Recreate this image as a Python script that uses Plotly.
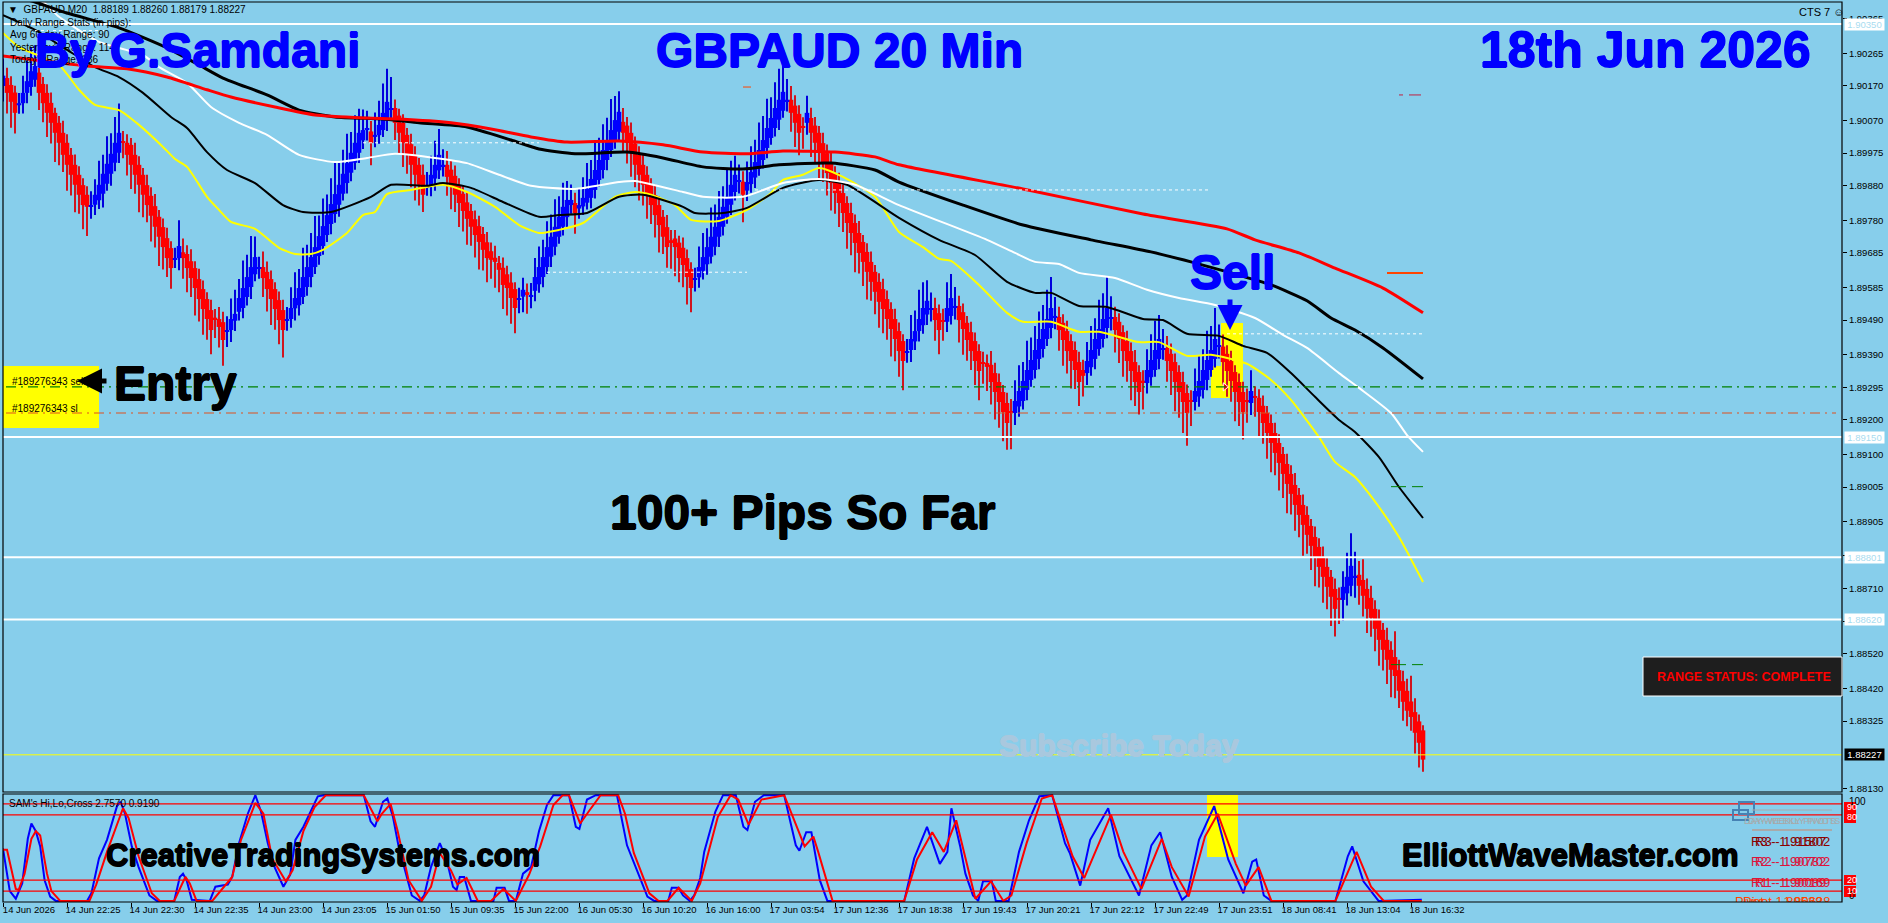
import numpy as np
import plotly.graph_objects as go

# candle values are points above 1.88000
closes = [
    2200, 2150, 2124, 2092, 2120, 2150, 2184, 2213, 2228, 2150,
    2120, 2092, 2063, 2034, 2005, 1970, 1941, 1912, 1883, 1854,
    1824, 1819, 1824, 1854, 1883, 1915, 1944, 1973, 2005, 2034,
    2005, 1970, 1941, 1912, 1883, 1854, 1824, 1793, 1761, 1732,
    1702, 1670, 1641, 1670, 1705, 1670, 1641, 1612, 1583, 1551,
    1522, 1493, 1461, 1493, 1470, 1432, 1461, 1493, 1508, 1554,
    1583, 1615, 1644, 1673, 1644, 1612, 1580, 1551, 1522, 1490,
    1461, 1493, 1525, 1554, 1583, 1615, 1644, 1673, 1702, 1734,
    1763, 1795, 1827, 1856, 1883, 1915, 1946, 1976, 2005, 2034,
    2042, 2048, 2005, 2028, 2057, 2092, 2124, 2106, 2063, 2034,
    2005, 1970, 1941, 1912, 1883, 1854, 1880, 1912, 1941, 1970,
    1941, 1906, 1877, 1854, 1830, 1807, 1784, 1761, 1737, 1717,
    1694, 1670, 1665, 1659, 1636, 1592, 1583, 1554, 1525, 1554,
    1578, 1563, 1563, 1615, 1644, 1673, 1702, 1732, 1761, 1790,
    1819, 1839, 1839, 1801, 1824, 1845, 1871, 1900, 1926, 1955,
    1984, 2013, 2042, 2071, 2095, 2034, 2005, 1976, 1941, 1912,
    1883, 1854, 1824, 1795, 1766, 1732, 1702, 1714, 1702, 1670,
    1650, 1615, 1583, 1612, 1644, 1673, 1702, 1732, 1761, 1790,
    1819, 1848, 1883, 1912, 1897, 1854, 1891, 1920, 1949, 1984,
    2013, 2048, 2077, 2106, 2130, 2153, 2130, 2092, 2063, 2034,
    2048, 2092, 2034, 2005, 1976, 1946, 1917, 1888, 1859, 1830,
    1801, 1772, 1743, 1714, 1685, 1659, 1630, 1601, 1572, 1543,
    1522, 1493, 1464, 1435, 1400, 1371, 1400, 1435, 1458, 1493,
    1525, 1546, 1525, 1490, 1461, 1485, 1525, 1554, 1531, 1490,
    1464, 1432, 1400, 1371, 1342, 1365, 1354, 1310, 1281, 1252,
    1223, 1191, 1220, 1255, 1284, 1313, 1345, 1374, 1403, 1435,
    1464, 1493, 1525, 1502, 1461, 1432, 1400, 1371, 1345, 1310,
    1328, 1371, 1403, 1435, 1464, 1493, 1525, 1499, 1461, 1435,
    1400, 1371, 1342, 1310, 1281, 1310, 1345, 1374, 1403, 1435,
    1409, 1371, 1342, 1310, 1281, 1252, 1220, 1252, 1284, 1313,
    1345, 1374, 1403, 1435, 1417, 1368, 1342, 1313, 1281, 1252,
    1223, 1252, 1284, 1264, 1223, 1191, 1162, 1133, 1104, 1075,
    1043, 1014, 985, 953, 924, 895, 866, 834, 802, 773,
    744, 715, 686, 651, 677, 715, 744, 776, 747, 718,
    689, 651, 625, 593, 561, 532, 503, 474, 456, 413,
    381, 355, 337, 291, 262, 213,
]
# open minus close, so red bars are positive and blue negative
bodies = [
    -30, 43, 49, 59, -6, -30, -34, -46, -40, 59,
    56, 58, 58, 58, 58, 64, 64, 58, 58, 58,
    58, 35, -5, -29, -45, -58, -58, -58, -58, -58,
    4, 35, 58, 58, 58, 58, 58, 58, 60, 58,
    58, 58, 58, -4, -35, 17, 41, 49, 58, 58,
    58, 58, 58, 4, 23, 52, -4, -32, -20, -40,
    -58, -58, -58, -50, -4, 32, 50, 58, 58, 58,
    58, -4, -32, -30, -50, -58, -58, -58, -58, -58,
    -58, -58, -58, -58, -58, -58, -58, -58, -58, -58,
    -30, -6, 33, -6, -30, -50, -55, -4, 43, 50,
    58, 58, 60, 58, 58, 58, -4, -32, -40, -45,
    -4, 35, 50, 55, 52, 50, 48, 46, 46, 46,
    46, 46, 25, 12, 20, 50, 40, 45, 55, -4,
    -20, 8, -4, -40, -50, -58, -58, -58, -58, -58,
    -58, -50, -15, 29, -10, -25, -40, -55, -58, -58,
    -58, -58, -58, -58, -58, 32, 50, 58, 62, 58,
    58, 58, 58, 58, 58, 58, 58, 8, 25, 45,
    50, 55, 55, -4, -30, -40, -50, -58, -58, -58,
    -58, -58, -58, -50, -4, 38, -25, -35, -45, -55,
    -58, -58, -58, -58, -58, -55, -4, 38, 50, 55,
    6, -29, 43, 50, 58, 58, 58, 58, 58, 58,
    58, 58, 58, 58, 58, 58, 58, 58, 58, 58,
    58, 58, 58, 58, 58, 58, -4, -32, -30, -35,
    -50, -40, -4, 35, 49, 3, -40, -52, -4, 41,
    49, 50, 55, 58, 58, 3, 11, 50, 55, 58,
    58, 58, 6, -35, -45, -58, -58, -58, -58, -58,
    -58, -58, -58, -4, 38, 50, 58, 58, 58, 58,
    17, -35, -50, -58, -58, -58, -58, -4, 38, 50,
    55, 58, 58, 58, 58, 4, -38, -50, -58, -58,
    -4, 38, 50, 58, 58, 58, 58, 4, -32, -45,
    -58, -58, -58, -58, -4, 45, 50, 58, 58, 58,
    58, 4, -35, 4, 41, 50, 58, 58, 58, 58,
    58, 58, 58, 58, 58, 58, 58, 58, 58, 58,
    58, 58, 58, 58, 6, -38, -48, -58, -4, 32,
    46, 58, 58, 58, 58, 58, 58, 58, 55, 60,
    60, 58, 45, 60, 62, 85,
]
upper_wicks = [
    50, 30, 25, 20, 30, 50, 60, 70, 60, 25,
    20, 25, 30, 15, 20, 35, 25, 20, 30, 25,
    20, 25, 40, 45, 70, 55, 80, 60, 75, 85,
    30, 25, 20, 35, 25, 20, 30, 25, 35, 20,
    25, 30, 20, 30, 75, 40, 25, 35, 20, 30,
    25, 20, 30, 25, 35, 30, 40, 60, 70, 55,
    80, 65, 90, 60, 30, 45, 30, 25, 20, 25,
    30, 35, 60, 75, 55, 85, 65, 70, 90, 60,
    80, 60, 75, 90, 65, 70, 85, 60, 80, 70,
    60, 50, 30, 65, 70, 85, 96, 90, 25, 20,
    25, 20, 30, 25, 20, 30, 40, 55, 70, 75,
    45, 40, 25, 30, 20, 25, 30, 20, 25, 30,
    20, 30, 25, 35, 20, 30, 25, 30, 20, 30,
    35, 25, 35, 55, 60, 50, 75, 65, 80, 60,
    70, 55, 45, 30, 50, 60, 75, 55, 85, 65,
    75, 65, 90, 70, 60, 40, 25, 30, 20, 25,
    30, 25, 20, 30, 25, 20, 35, 30, 25, 20,
    30, 25, 20, 30, 60, 70, 55, 85, 65, 75,
    60, 80, 70, 55, 45, 30, 60, 75, 65, 80,
    70, 85, 60, 75, 90, 75, 60, 40, 30, 25,
    25, 50, 30, 25, 20, 30, 25, 35, 20, 30,
    25, 20, 30, 25, 35, 20, 25, 30, 20, 25,
    30, 25, 20, 30, 25, 20, 35, 70, 60, 85,
    75, 60, 45, 30, 25, 35, 75, 70, 55, 30,
    25, 20, 30, 25, 20, 30, 25, 40, 30, 25,
    20, 30, 35, 60, 75, 55, 85, 65, 70, 80,
    70, 85, 90, 55, 30, 25, 30, 20, 25, 30,
    30, 55, 70, 60, 85, 75, 90, 60, 30, 25,
    20, 30, 25, 35, 20, 30, 60, 75, 85, 70,
    55, 35, 30, 25, 20, 30, 25, 30, 65, 75,
    60, 85, 70, 90, 60, 35, 25, 30, 20, 25,
    30, 35, 60, 30, 25, 30, 20, 25, 30, 25,
    20, 30, 25, 35, 20, 30, 25, 20, 30, 25,
    30, 25, 20, 30, 30, 45, 70, 95, 70, 40,
    60, 30, 35, 25, 30, 20, 35, 25, 75, 30,
    30, 35, 75, 40, 20, 15,
]
lower_wicks = [
    45, 60, 75, 60, 25, 30, 30, 25, 20, 50,
    55, 70, 60, 85, 65, 50, 75, 60, 80, 55,
    70, 85, 35, 30, 25, 40, 20, 35, 25, 30,
    45, 60, 70, 55, 80, 65, 50, 75, 60, 85,
    65, 55, 60, 25, 35, 60, 70, 55, 80, 65,
    75, 60, 70, 55, 60, 75, 45, 35, 30, 25,
    30, 25, 35, 20, 30, 55, 65, 75, 60, 70,
    80, 30, 25, 35, 30, 20, 25, 30, 20, 25,
    25, 20, 30, 25, 35, 20, 30, 25, 20, 30,
    25, 30, 65, 30, 25, 20, 30, 25, 50, 60,
    70, 55, 65, 75, 60, 50, 25, 30, 35, 25,
    30, 55, 65, 50, 70, 60, 75, 55, 65, 80,
    60, 70, 55, 75, 65, 70, 80, 75, 73, 40,
    45, 55, 35, 30, 25, 30, 20, 30, 25, 20,
    25, 30, 25, 60, 30, 25, 20, 30, 25, 20,
    25, 30, 20, 25, 30, 55, 60, 70, 65, 75,
    60, 70, 55, 65, 80, 50, 60, 75, 85, 70,
    65, 80, 70, 35, 30, 25, 30, 20, 25, 30,
    25, 20, 30, 25, 35, 80, 30, 25, 30, 20,
    25, 30, 20, 25, 30, 20, 30, 55, 70, 65,
    60, 35, 70, 60, 75, 55, 65, 80, 60, 70,
    55, 75, 65, 85, 60, 70, 80, 55, 65, 75,
    70, 60, 80, 65, 75, 85, 30, 35, 25, 30,
    25, 30, 35, 60, 70, 55, 30, 25, 35, 65,
    75, 60, 55, 70, 85, 60, 70, 65, 80, 75,
    85, 78, 105, 35, 30, 25, 30, 20, 25, 30,
    25, 20, 30, 35, 60, 75, 65, 80, 55, 70,
    60, 35, 25, 30, 20, 25, 30, 35, 65, 70,
    75, 60, 85, 70, 65, 80, 30, 25, 20, 30,
    30, 60, 70, 85, 75, 90, 95, 70, 25, 30,
    25, 30, 20, 25, 35, 65, 75, 60, 85, 70,
    80, 60, 35, 55, 70, 60, 75, 85, 65, 80,
    70, 85, 60, 75, 65, 90, 55, 70, 85, 60,
    75, 65, 85, 80, 70, 60, 35, 30, 60, 55,
    60, 70, 55, 65, 75, 60, 70, 80, 65, 50,
    55, 45, 40, 60, 72, 35,
]

# moving averages: (bar, points above 1.88000)
ma_red_bar = [0, 21, 31, 41, 51, 57, 68, 78, 91, 99, 112, 122, 132, 141, 154, 165, 175, 186, 195, 208, 218, 224, 255, 285, 306, 313, 324, 333, 345, 355]
ma_red_pts = [2257, 2228, 2220, 2196, 2159, 2138, 2109, 2086, 2077, 2074, 2063, 2045, 2022, 2007, 2010, 1999, 1978, 1973, 1981, 1978, 1964, 1941, 1871, 1798, 1755, 1723, 1685, 1641, 1583, 1511]
ma_black_slow_bar = [0, 8, 16, 29, 41, 49, 55, 66, 74, 83, 95, 104, 116, 127, 134, 143, 156, 165, 175, 185, 194, 207, 218, 224, 240, 255, 272, 287, 297, 307, 317, 326, 332, 338, 345, 355]
ma_black_slow_pts = [2440, 2414, 2382, 2339, 2281, 2231, 2193, 2144, 2100, 2080, 2074, 2063, 2051, 2013, 1987, 1973, 1978, 1961, 1935, 1929, 1941, 1946, 1926, 1891, 1824, 1766, 1723, 1688, 1659, 1627, 1592, 1546, 1496, 1461, 1409, 1319]
ma_white_bar = [0, 10, 14, 24, 35, 39, 46, 52, 59, 66, 74, 83, 91, 98, 108, 116, 124, 132, 143, 154, 158, 170, 175, 185, 195, 204, 213, 224, 246, 253, 258, 264, 269, 278, 286, 294, 303, 313, 320, 326, 334, 339, 347, 351, 355]
ma_white_pts = [2440, 2414, 2371, 2298, 2260, 2225, 2179, 2109, 2063, 2028, 1970, 1949, 1961, 1973, 1961, 1946, 1912, 1880, 1871, 1891, 1894, 1862, 1848, 1848, 1888, 1900, 1883, 1824, 1723, 1685, 1659, 1653, 1627, 1612, 1578, 1554, 1534, 1496, 1447, 1409, 1336, 1293, 1220, 1156, 1107]
ma_black_fast_bar = [0, 8, 16, 23, 29, 35, 42, 46, 51, 56, 63, 70, 75, 82, 92, 97, 106, 110, 117, 125, 134, 139, 146, 154, 160, 170, 173, 180, 186, 195, 204, 211, 224, 234, 243, 251, 258, 262, 269, 276, 285, 290, 296, 304, 310, 316, 322, 328, 334, 338, 344, 349, 355]
ma_black_fast_pts = [2376, 2333, 2275, 2225, 2196, 2150, 2080, 2048, 1978, 1926, 1888, 1824, 1804, 1804, 1848, 1883, 1880, 1888, 1874, 1833, 1790, 1795, 1801, 1848, 1854, 1819, 1801, 1801, 1816, 1874, 1897, 1883, 1787, 1723, 1679, 1601, 1569, 1569, 1531, 1528, 1493, 1490, 1450, 1444, 1415, 1395, 1336, 1267, 1200, 1165, 1092, 1005, 915]
ma_yellow_bar = [0, 4, 14, 19, 23, 29, 34, 40, 43, 46, 51, 54, 57, 63, 69, 73, 77, 80, 86, 90, 93, 96, 102, 110, 116, 123, 129, 134, 139, 145, 153, 158, 162, 168, 172, 179, 186, 192, 195, 200, 204, 210, 218, 224, 230, 234, 237, 244, 251, 255, 262, 269, 274, 284, 289, 296, 302, 311, 317, 322, 329, 333, 338, 344, 349, 355]
ma_yellow_pts = [2324, 2283, 2231, 2159, 2115, 2100, 2057, 1993, 1958, 1935, 1848, 1810, 1775, 1755, 1700, 1682, 1682, 1694, 1743, 1795, 1804, 1856, 1868, 1883, 1862, 1819, 1766, 1743, 1752, 1772, 1848, 1862, 1854, 1824, 1781, 1778, 1810, 1859, 1897, 1912, 1932, 1906, 1848, 1746, 1702, 1668, 1662, 1592, 1511, 1485, 1485, 1456, 1456, 1426, 1426, 1386, 1389, 1363, 1316, 1258, 1150, 1078, 1034, 947, 860, 729]

# stochastic pane
stoch_blue_bar = [0, 1.7, 3.2, 4.8, 6.2, 7.1, 8.2, 9.3, 10.4, 11.8, 13.2, 21, 22.1, 24, 26, 28.5, 29.4, 30.5, 32.2, 33.9, 36.6, 38.5, 42.8, 44.2, 45, 45.9, 47.2, 51.7, 53.1, 56.2, 57.3, 59, 61.2, 63.1, 64.5, 66.2, 67.9, 70.1, 71.8, 73.1, 75.1, 76.8, 78.7, 80.2, 90.2, 91.9, 93, 95, 96.1, 97.5, 98.9, 100.3, 102.2, 104.2, 105.3, 107, 109.2, 110.9, 112.5, 113.4, 114.2, 115.3, 117, 122.6, 123.4, 125.4, 126.5, 128.2, 130, 132, 134, 136, 137.6, 141.5, 143.2, 144.1, 146, 148.2, 153.5, 156, 158.9, 161.1, 162.8, 166.3, 167.2, 168.9, 170, 171.7, 172.8, 174.3,
                  175.3, 178.1, 180, 183.2, 185.1, 186.1, 188, 190.2, 195.3, 198.2, 199.1, 200.8, 202.1, 204.2, 206.1, 225.3, 227.8, 231, 234.2, 236.1, 237.1, 239.3, 240.6, 242.5, 243.8, 245, 247.2, 248.2, 251.4, 254, 256.5, 259.1, 262.3, 265.5, 266.7, 269.3, 271.8, 276.3, 279.1, 284, 287.1, 289.3, 292.2, 294.8, 296, 299, 302.8, 306.3, 310.1, 312.3, 313.3, 315.2, 317.1, 333.1, 336.2, 337.3, 340.1, 343.9, 354.7]
stoch_blue_val = [49, 10, 3, 17, 58, 72, 65, 51, 20, 5, 1, 1, 8, 40, 57, 88, 92, 81, 51, 32, 6, 1, 1, 23, 26, 20, 2, 1, 14, 16, 23, 54, 81, 98, 83, 54, 32, 14, 25, 57, 69, 83, 97, 98, 98, 74, 69, 92, 95, 78, 51, 32, 6, 1, 6, 32, 54, 39, 14, 11, 23, 23, 1, 1, 13, 13, 1, 1, 26, 32, 65, 89, 98, 98, 69, 67, 94, 98, 98, 52, 26, 5, 1, 1, 13, 13, 6, 1, 6, 22,
                  46, 83, 98, 98, 69, 66, 92, 98, 98, 52, 47, 64, 64, 20, 1, 1, 40, 69, 35, 46, 86, 51, 26, 6, 1, 19, 19, 1, 1, 46, 75, 97, 98, 54, 45, 15, 57, 86, 42, 6, 52, 64, 23, 2, 6, 57, 88, 39, 8, 37, 39, 6, 1, 1, 42, 51, 19, 1, 2]
stoch_red_bar = [0, 1, 3.2, 3.9, 5.4, 7.1, 8.2, 9.3, 11, 12.1, 14.3, 21.6, 23.3, 26, 30, 31.4, 33.9, 37.2, 39.2, 42.8, 45.6, 46.7, 48.4, 52.3, 57.3, 59.5, 63.1, 65.1, 67.3, 70.7, 72.4, 75.1, 77.9, 80.7, 90.2, 92.4, 93.6, 94.7, 96.9, 98.6, 101.4, 104.7, 107, 109.2, 112, 113.6, 115.9, 118.7, 122, 125.1, 128.2, 131.5, 134.3, 137.6, 139.9, 141.5, 144.3, 146.6, 149.4, 153.8, 155.5, 157.7, 161.6, 163.9, 166.1, 168.9, 172.2, 174.3,
                 178.7, 181.9, 183.8, 186.4, 189.6, 195.3, 200.4, 202.6, 203.8, 207.4, 225.3, 228.5, 232.3, 235.2, 238.3, 243.1, 247, 250.1, 252.1, 255.9, 259.7, 262.3, 267.4, 270.3, 277, 280.1, 284.6, 289.7, 292.2, 296.4, 300.5, 303.7, 308.2, 310.7, 313.9, 317.1, 333.1, 338.4, 342, 345.2, 354.7]
stoch_red_val = [48, 48, 12, 11, 26, 58, 65, 61, 26, 10, 1, 1, 16, 46, 86, 77, 42, 8, 1, 1, 23, 17, 1, 1, 23, 57, 91, 81, 40, 19, 29, 65, 87, 98, 98, 83, 74, 81, 90, 66, 20, 1, 14, 45, 29, 16, 22, 1, 1, 12, 1, 25, 51, 89, 98, 98, 72, 84, 98, 98, 81, 45, 8, 1, 1, 13, 1, 17,
                 78, 98, 94, 71, 94, 98, 51, 60, 46, 1, 1, 39, 64, 46, 75, 3, 19, 1, 6, 54, 95, 98, 42, 22, 80, 46, 12, 58, 32, 5, 60, 81, 35, 15, 32, 1, 1, 46, 14, 1, 1]
stoch_levels = [90, 80, 20, 10]

x_tick_bars = [0, 16, 32, 48, 64, 80, 96, 112, 128, 144, 160, 176, 192, 208, 224, 240, 256, 272, 288, 304, 320, 336, 352]
x_tick_labels = ["14 Jun 2026", "14 Jun 22:25", "14 Jun 22:30", "14 Jun 22:35", "14 Jun 23:00", "14 Jun 23:05",
                 "15 Jun 01:50", "15 Jun 09:35", "15 Jun 22:00", "16 Jun 05:30", "16 Jun 10:20", "16 Jun 16:00",
                 "17 Jun 03:54", "17 Jun 12:36", "17 Jun 18:38", "17 Jun 19:43", "17 Jun 20:21", "17 Jun 22:12",
                 "17 Jun 22:49", "17 Jun 23:51", "18 Jun 08:41", "18 Jun 13:04", "18 Jun 16:32"]
price_ticks = [1.90365, 1.90265, 1.90170, 1.90070, 1.89975, 1.89880, 1.89780, 1.89685, 1.89585, 1.89490, 1.89390, 1.89295,
               1.89200, 1.89100, 1.89005, 1.88905, 1.88805, 1.88710, 1.88615, 1.88520, 1.88420, 1.88325, 1.88130]
white_levels = [1.90350, 1.89150, 1.88801, 1.88620]
entry_level = 1.89296
stop_level = 1.89220
bid = 1.88227

BG = "#87CEEB"
FONT = "Liberation Sans"


def to_price(pts):
    return 1.88 + np.array(pts, dtype=float) / 100000


# pixel helpers, the plot area runs 3..1842 across and 2..902 down
def px(x):
    return (x - 3) / 1839


def py(y):
    return (902 - y) / 900


def heavy(col):
    # the big words in the original are fatter than plain bold
    return f"0.7px 0 0 {col}, -0.7px 0 0 {col}, 0 0.7px 0 {col}, 0 -0.7px 0 {col}"


def label(text, x, y, size=10, color="black", bold=False, anchor="left", thick=False):
    if bold:
        text = "<b>" + text + "</b>"
    font = dict(family=FONT, size=size, color=color)
    if thick:
        font["shadow"] = heavy(color)
    return dict(text=text, x=px(x), y=py(y), xref="paper", yref="paper", xanchor=anchor, yanchor="middle",
                showarrow=False, font=font)


bars = np.arange(len(closes))
c = to_price(closes)
o = c + np.array(bodies) / 100000
top = np.maximum(o, c)
low = np.minimum(o, c)
high_w = top + np.array(upper_wicks) / 100000
low_w = low - np.array(lower_wicks) / 100000
is_red = np.array(bodies) > 0

fig = go.Figure()

# wicks under the bodies
for mask, col in [(is_red, "#d0141e"), (~is_red, "#0000dd")]:
    fig.add_trace(go.Bar(x=bars[mask], base=low_w[mask], y=(high_w - low_w)[mask], width=0.25,
                         marker=dict(color=col, line=dict(width=0))))
for mask, col in [(is_red, "#ff0000"), (~is_red, "#0000ff")]:
    fig.add_trace(go.Bar(x=bars[mask], base=low[mask], y=(top - low)[mask], width=1.15,
                         marker=dict(color=col, line=dict(width=0))))

for mb, mp, col, w in [(ma_yellow_bar, ma_yellow_pts, "#ffff00", 2),
                       (ma_black_fast_bar, ma_black_fast_pts, "#000000", 2),
                       (ma_white_bar, ma_white_pts, "#ffffff", 2),
                       (ma_black_slow_bar, ma_black_slow_pts, "#000000", 3),
                       (ma_red_bar, ma_red_pts, "#ff0000", 3)]:
    fig.add_trace(go.Scatter(x=mb, y=to_price(mp), mode="lines",
                             line=dict(color=col, width=w, shape="spline", smoothing=0.6)))

# small dashes on the right side and short object lines
for xs, p, col, dash, w in [([8, 26], 2331, "white", "3px,3px", 1),
                            ([90, 134], 2005, "white", "3px,3px", 1),
                            ([188, 302], 1868, "white", "3px,3px", 1),
                            ([136, 186], 1629, "white", "3px,3px", 1),
                            ([306, 355], 1450, "white", "3px,3px", 1),
                            ([346, 355], 1627, "#ff4500", None, 2),
                            ([347, 355], 1006, "#008000", "15px,6px", 1),
                            ([347, 355], 489, "#008000", "15px,6px", 1),
                            ([349, 355], 2144, "#c02040", "4px,6px,12px", 1),
                            ([185, 187], 2167, "#ff4500", None, 1)]:
    fig.add_trace(go.Scatter(x=xs, y=to_price([p, p]), mode="lines",
                             line=dict(color=col, width=w, dash=dash)))

fig.add_trace(go.Scatter(x=[305.5], y=[entry_level], mode="markers",
                         marker=dict(symbol="triangle-right", size=7, color="#ff0000", line=dict(color="white", width=1))))

# lower pane
fig.add_trace(go.Scatter(x=stoch_blue_bar, y=stoch_blue_val, yaxis="y2", mode="lines", line=dict(color="#0000ff", width=2)))
fig.add_trace(go.Scatter(x=stoch_red_bar, y=stoch_red_val, yaxis="y2", mode="lines", line=dict(color="#ff0000", width=2)))

# overlapping pivot panel texts, the original draws them twice on top of each other
for x_bar, t, v, col in [(437, "R3 - 1.91507", 54, "#8b0000"), (438, "R3 - 1.91802", 54, "#8b0000"),
                         (437, "R2 - 1.90782", 36, "#dc143c"), (438, "R2 - 1.90702", 36, "#dc143c"),
                         (437, "R1 - 1.90089", 16.5, "#dc143c"), (438, "R1 - 1.90169", 16.5, "#dc143c"),
                         (433, "Pivot - 1.89528", -1, "#ff4500"), (435, "Pivot - 1.89638", -1, "#ff4500")]:
    fig.add_trace(go.Scatter(x=[x_bar], y=[v], yaxis="y2", mode="text", text=[t], textposition="middle right",
                             cliponaxis=True, textfont=dict(family=FONT, size=13, color=col)))

shapes = []
# yellow marker boxes
for x0, x1, y0, y1 in [(3, 99, 366, 428), (1211, 1230, 366, 398), (1221, 1243, 323, 392), (1207, 1238, 795, 857)]:
    shapes.append(dict(type="rect", xref="paper", yref="paper", x0=px(x0), x1=px(x1), y0=py(y1), y1=py(y0),
                       fillcolor="#ffff00", line=dict(width=0), layer="below"))
for lv in white_levels:
    shapes.append(dict(type="line", xref="paper", yref="y", x0=0, x1=1, y0=lv, y1=lv,
                       line=dict(color="white", width=2)))
shapes.append(dict(type="line", xref="paper", yref="y", x0=px(6), x1=px(1836), y0=entry_level, y1=entry_level,
                   line=dict(color="#008000", width=1.2, dash="10px,5px,2px,5px")))
shapes.append(dict(type="line", xref="paper", yref="y", x0=px(6), x1=px(1836), y0=stop_level, y1=stop_level,
                   line=dict(color="#e0501e", width=1.2, dash="10px,5px,2px,5px")))
shapes.append(dict(type="line", xref="paper", yref="y", x0=0, x1=1, y0=bid, y1=bid, line=dict(color="#ffff00", width=1)))
for lv in stoch_levels:
    shapes.append(dict(type="line", xref="paper", yref="y2", x0=0, x1=1, y0=lv, y1=lv, line=dict(color="#ff0000", width=1.2)))
# pane frames
for y0, y1 in [(2, 792), (794, 902)]:
    shapes.append(dict(type="rect", xref="paper", yref="paper", x0=0, x1=1, y0=py(y1), y1=py(y0),
                       line=dict(color="black", width=1.2)))
# status box and the small panel bits
shapes.append(dict(type="rect", xref="paper", yref="paper", x0=px(1643), x1=1, y0=py(696), y1=py(657),
                   fillcolor="#1e1e1e", line=dict(color="white", width=1)))
for x0, x1, y0, y1 in [(1739, 1754, 802, 814), (1733, 1748, 810, 820)]:
    shapes.append(dict(type="rect", xref="paper", yref="paper", x0=px(x0), x1=px(x1), y0=py(y1), y1=py(y0),
                       line=dict(color="#4682b4", width=2)))
shapes.append(dict(type="line", xref="paper", yref="paper", x0=px(1752), x1=px(1832), y0=py(810), y1=py(810), line=dict(color="#a9a9a9", width=1)))
shapes.append(dict(type="line", xref="paper", yref="paper", x0=px(1752), x1=px(1832), y0=py(830), y1=py(830), line=dict(color="#a9a9a9", width=2)))
for x0, y0, y1 in [(1844, 802, 812), (1844, 812, 823), (1844, 875, 885), (1844, 886, 897)]:
    shapes.append(dict(type="rect", xref="paper", yref="paper", x0=px(x0), x1=px(1856), y0=py(y1), y1=py(y0),
                       fillcolor="#ff0000", line=dict(width=0)))

annotations = [
    label("▼  GBPAUD,M20  1.88189 1.88260 1.88179 1.88227", 6, 10),
    label("Daily Range Stats (in pips):", 8, 23),
    label("Avg 60-day Range: 90", 8, 35),
    label("Yesterday's Range: 114", 8, 47),
    label("Today's Range: 136", 8, 60),
    label("By G.Samdani", 33, 50, size=48, color="#0000ff", bold=True, thick=True),
    label("GBPAUD 20 Min", 654, 50, size=48, color="#0000ff", bold=True, thick=True),
    label("18th Jun 2026", 1478, 50, size=50, color="#0000ff", bold=True, thick=True),
    label("CTS 7 ☺", 1797, 12, size=11),
    label("Sell", 1188, 272, size=48, color="#0000ff", bold=True, thick=True),
    label("Entry", 112, 384, size=48, bold=True, thick=True),
    label("#189276343 sell", 10, 381),
    label("#189276343 sl", 10, 408),
    label("100+ Pips So Far", 608, 512, size=48, bold=True, thick=True),
    label("Subscribe Today", 997, 745, size=30, color="#a9c8de", bold=True, thick=True),
    label("RANGE STATUS: COMPLETE", 1655, 677, size=12.5, color="#ff0000", bold=True),
    label("SAM's Hi,Lo,Cross 2.7570 0.9190", 7, 803),
    label("CreativeTradingSystems.com", 104, 855, size=31, bold=True, thick=True),
    label("ElliottWaveMaster.com", 1400, 855, size=31, bold=True, thick=True),
    label("DAY-WEEKLY PIVOTS", 1742, 821, size=9, color="#a9a9a9"),
    label("DAY-WEEKLY PIVOTS", 1746, 821, size=9, color="#a9a9a9"),
    label("100", 1847, 801, size=10),
    label("0", 1847, 895, size=10),
    label("90", 1845, 807, size=9, color="white"),
    label("80", 1845, 817, size=9, color="white"),
    label("20", 1845, 880, size=9, color="white"),
    label("10", 1845, 891, size=9, color="white"),
    # arrows next to the big words
    dict(text="", x=px(77), y=py(381), xref="paper", yref="paper", ax=31, ay=0, axref="pixel", ayref="pixel",
         showarrow=True, arrowhead=2, arrowsize=1, arrowwidth=5, arrowcolor="black"),
    dict(text="", x=px(1230), y=py(330), xref="paper", yref="paper", ax=0, ay=-32, axref="pixel", ayref="pixel",
         showarrow=True, arrowhead=2, arrowsize=1, arrowwidth=5, arrowcolor="#0000ff"),
]
# price boxes on the scale
for lv in white_levels + [bid]:
    dark = lv == bid
    annotations.append(dict(text=f"{lv:.5f}", x=px(1844), y=lv, xref="paper", yref="y", xanchor="left", yanchor="middle",
                            showarrow=False, width=39, height=11, align="center", borderpad=0,
                            bgcolor="black" if dark else "white",
                            font=dict(family=FONT, size=9.5, color="white" if dark else "#a8dcf0")))

fig.update_layout(
    width=1888, height=923, showlegend=False, barmode="overlay",
    paper_bgcolor=BG, plot_bgcolor=BG,
    margin=dict(l=3, r=46, t=2, b=21),
    font=dict(family=FONT, size=9.5, color="black"),
    shapes=shapes, annotations=annotations,
    xaxis=dict(domain=[0, 1], anchor="y2", range=[0, 459.75], showgrid=False, zeroline=False,
               tickmode="array", tickvals=[b + 6.5 for b in x_tick_bars], ticktext=x_tick_labels, ticks="",
               minor=dict(tickmode="array", tickvals=x_tick_bars, ticks="outside", ticklen=4, tickcolor="black"),
               tickfont=dict(family=FONT, size=9.5), fixedrange=True),
    yaxis=dict(domain=[py(792), 1], anchor="x", side="right", range=[1.88119, 1.90414], showgrid=False, zeroline=False,
               tickmode="array", tickvals=price_ticks, ticktext=[f"{v:.5f}" for v in price_ticks],
               ticks="outside", ticklen=4, tickcolor="black", tickfont=dict(family=FONT, size=9.5), fixedrange=True),
    yaxis2=dict(domain=[0, py(794)], anchor="x", side="right", range=[0, 99.1], showgrid=False, zeroline=False,
                showticklabels=False, fixedrange=True),
)

fig.write_html("out.html", config=dict(displayModeBar=False),
               post_script="document.body.style.margin='0';document.body.style.overflow='hidden';")
